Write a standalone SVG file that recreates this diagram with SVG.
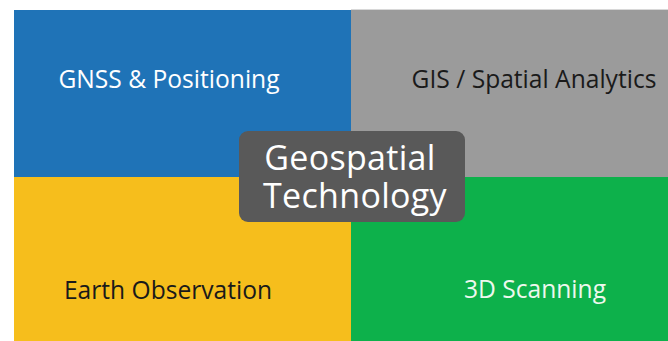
<svg xmlns="http://www.w3.org/2000/svg" width="668" height="341" viewBox="0 0 668 341">
  <style>
    .lbl { font-family: "Open Sans", "Noto Sans", "Liberation Sans", sans-serif; font-size: 24.6px; font-weight: 500; text-anchor: middle; }
    .hub { font-family: "Open Sans", "Noto Sans", "Liberation Sans", sans-serif; font-size: 34px; letter-spacing: 0.3px; text-anchor: middle; fill: #ffffff; }
  </style>
  <rect x="0" y="0" width="668" height="341" fill="#ffffff"/>
  <g id="gnss">
    <rect x="14" y="10" width="337" height="167" fill="#1f73b7"/>
    <text class="lbl" x="169" y="88" fill="#ffffff">GNSS &amp; Positioning</text>
  </g>
  <g id="gis">
    <rect x="351" y="9" width="317" height="1" fill="#d8d8d8"/>
    <rect x="351" y="10" width="317" height="167" fill="#9b9b9b"/>
    <text class="lbl" x="534" y="88" fill="#1a1a1a">GIS / Spatial Analytics</text>
  </g>
  <g id="earth-observation">
    <rect x="14" y="177" width="337" height="164" fill="#f6be1c"/>
    <text class="lbl" x="168" y="299" fill="#1a1a1a">Earth Observation</text>
  </g>
  <g id="scanning">
    <rect x="351" y="177" width="317" height="164" fill="#0db14b"/>
    <text class="lbl" x="535" y="298" fill="#eef8ee">3D Scanning</text>
  </g>
  <g id="geospatial-technology">
    <rect x="239" y="131" width="226" height="91" rx="9" fill="#595959"/>
    <text class="hub" x="350" y="170">Geospatial</text>
    <text class="hub" x="355" y="208">Technology</text>
  </g>
  <g id="connectors"/>
</svg>
